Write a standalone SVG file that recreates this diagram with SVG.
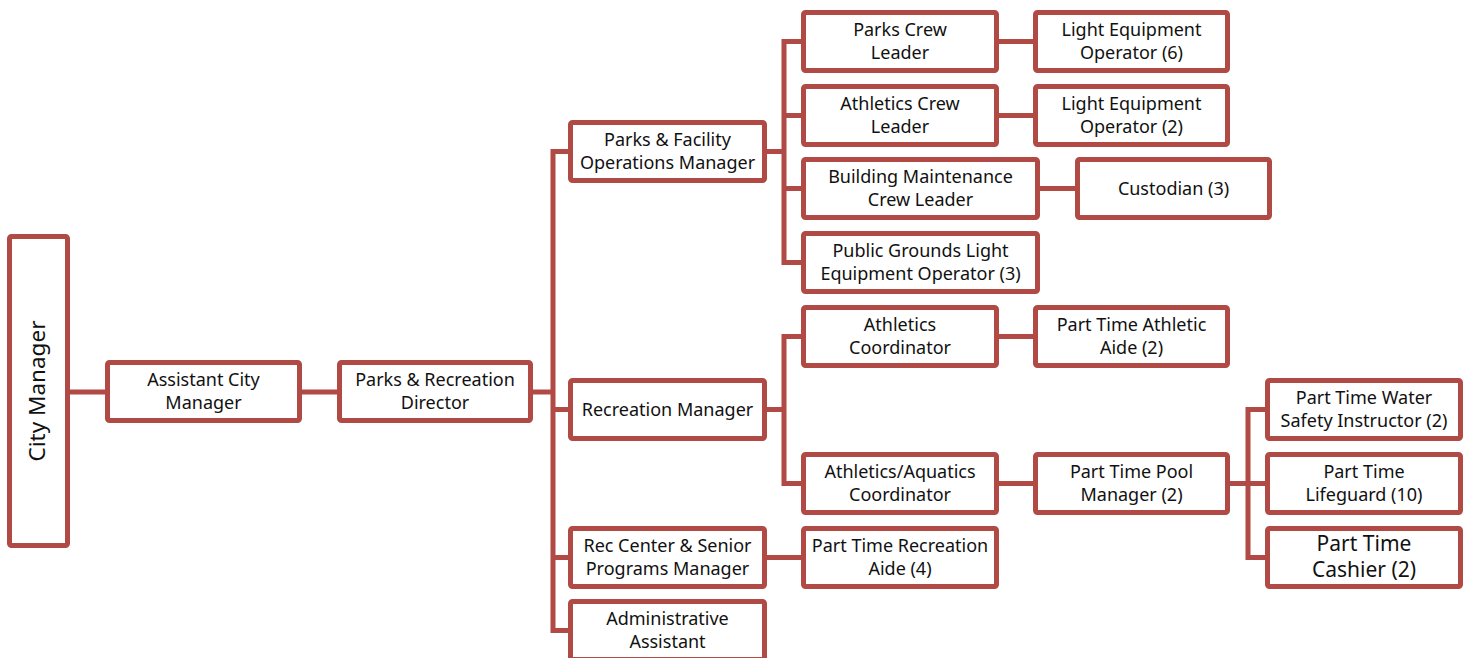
<svg xmlns="http://www.w3.org/2000/svg" width="1470" height="658" viewBox="0 0 1470 658">
  <style>
    .box { fill: #ffffff; stroke: #B14A45; stroke-width: 5; }
    .wire { fill: none; stroke: #B14A45; stroke-width: 5; stroke-linejoin: miter; }
    text { font-family: "Noto Sans", "Liberation Sans", sans-serif; font-size: 18px; fill: #111111; text-anchor: middle; }
    .big { font-size: 21px; }
    .title { font-size: 22.5px; }
  </style>
  <rect width="1470" height="658" fill="#ffffff"/>

  <!-- reporting lines -->
  <g id="connectors">
    <path class="wire" d="M70 392 H105"/>
    <path class="wire" d="M302 392 H337"/>
    <path class="wire" d="M533 392 H553"/>
    <path class="wire" d="M568 151.5 H553 V630.5 H568 M553 409.5 H568 M553 557.5 H568"/>
    <path class="wire" d="M767 151.5 H784"/>
    <path class="wire" d="M801 41.5 H784 V262.5 H801 M784 115.5 H801 M784 188.5 H801"/>
    <path class="wire" d="M767 409.5 H784"/>
    <path class="wire" d="M801 336.5 H784 V483.5 H801"/>
    <path class="wire" d="M767 557.5 H801"/>
    <path class="wire" d="M999 41.5 H1033"/>
    <path class="wire" d="M999 115.5 H1033"/>
    <path class="wire" d="M1040 188.5 H1075"/>
    <path class="wire" d="M999 336.5 H1033"/>
    <path class="wire" d="M999 483.5 H1033"/>
    <path class="wire" d="M1230 483.5 H1248"/>
    <path class="wire" d="M1265 409.5 H1248 V557.5 H1265 M1248 483.5 H1265"/>
  </g>

  <g id="city-manager">
    <rect class="box" x="9.5" y="236.5" width="58" height="309" rx="2"/>
    <text class="title" transform="translate(45 391) rotate(-90)">City Manager</text>
  </g>
  <g id="assistant-city-manager">
    <rect class="box" x="107.5" y="362.5" width="192" height="58" rx="2"/>
    <text x="203.5" y="386">Assistant City</text>
    <text x="203.5" y="409">Manager</text>
  </g>
  <g id="parks-recreation-director">
    <rect class="box" x="339.5" y="362.5" width="191" height="58" rx="2"/>
    <text x="435" y="386">Parks &amp; Recreation</text>
    <text x="435" y="409">Director</text>
  </g>
  <g id="parks-facility-operations-manager">
    <rect class="box" x="570.5" y="122.5" width="194" height="58" rx="2"/>
    <text x="667.5" y="146">Parks &amp; Facility</text>
    <text x="667.5" y="169">Operations Manager</text>
  </g>
  <g id="recreation-manager">
    <rect class="box" x="570.5" y="380.5" width="194" height="58" rx="2"/>
    <text x="667.5" y="415.5">Recreation Manager</text>
  </g>
  <g id="rec-center-senior-programs-manager">
    <rect class="box" x="570.5" y="528.5" width="194" height="58" rx="2"/>
    <text x="667.5" y="552">Rec Center &amp; Senior</text>
    <text x="667.5" y="575">Programs Manager</text>
  </g>
  <g id="administrative-assistant">
    <rect class="box" x="570.5" y="601.5" width="194" height="58" rx="2"/>
    <text x="667.5" y="625">Administrative</text>
    <text x="667.5" y="648">Assistant</text>
  </g>
  <g id="parks-crew-leader">
    <rect class="box" x="803.5" y="12.5" width="193" height="58" rx="2"/>
    <text x="900" y="36">Parks Crew</text>
    <text x="900" y="59">Leader</text>
  </g>
  <g id="athletics-crew-leader">
    <rect class="box" x="803.5" y="86.5" width="193" height="58" rx="2"/>
    <text x="900" y="110">Athletics Crew</text>
    <text x="900" y="133">Leader</text>
  </g>
  <g id="building-maintenance-crew-leader">
    <rect class="box" x="803.5" y="159.5" width="234" height="58" rx="2"/>
    <text x="920.5" y="183">Building Maintenance</text>
    <text x="920.5" y="206">Crew Leader</text>
  </g>
  <g id="public-grounds-operator">
    <rect class="box" x="803.5" y="233.5" width="234" height="58" rx="2"/>
    <text x="920.5" y="257">Public Grounds Light</text>
    <text x="920.5" y="280">Equipment Operator (3)</text>
  </g>
  <g id="athletics-coordinator">
    <rect class="box" x="803.5" y="307.5" width="193" height="58" rx="2"/>
    <text x="900" y="331">Athletics</text>
    <text x="900" y="354">Coordinator</text>
  </g>
  <g id="athletics-aquatics-coordinator">
    <rect class="box" x="803.5" y="454.5" width="193" height="58" rx="2"/>
    <text x="900" y="478">Athletics/Aquatics</text>
    <text x="900" y="501">Coordinator</text>
  </g>
  <g id="part-time-recreation-aide">
    <rect class="box" x="803.5" y="528.5" width="193" height="58" rx="2"/>
    <text x="900" y="552">Part Time Recreation</text>
    <text x="900" y="575">Aide (4)</text>
  </g>
  <g id="light-equipment-operator-6">
    <rect class="box" x="1035.5" y="12.5" width="192" height="58" rx="2"/>
    <text x="1131.5" y="36">Light Equipment</text>
    <text x="1131.5" y="59">Operator (6)</text>
  </g>
  <g id="light-equipment-operator-2">
    <rect class="box" x="1035.5" y="86.5" width="192" height="58" rx="2"/>
    <text x="1131.5" y="110">Light Equipment</text>
    <text x="1131.5" y="133">Operator (2)</text>
  </g>
  <g id="custodian">
    <rect class="box" x="1077.5" y="159.5" width="192" height="58" rx="2"/>
    <text x="1173.5" y="195">Custodian (3)</text>
  </g>
  <g id="part-time-athletic-aide">
    <rect class="box" x="1035.5" y="307.5" width="192" height="58" rx="2"/>
    <text x="1131.5" y="331">Part Time Athletic</text>
    <text x="1131.5" y="354">Aide (2)</text>
  </g>
  <g id="part-time-pool-manager">
    <rect class="box" x="1035.5" y="454.5" width="192" height="58" rx="2"/>
    <text x="1131.5" y="478">Part Time Pool</text>
    <text x="1131.5" y="501">Manager (2)</text>
  </g>
  <g id="part-time-water-safety-instructor">
    <rect class="box" x="1267.5" y="380.5" width="193" height="58" rx="2"/>
    <text x="1364" y="404">Part Time Water</text>
    <text x="1364" y="427">Safety Instructor (2)</text>
  </g>
  <g id="part-time-lifeguard">
    <rect class="box" x="1267.5" y="454.5" width="193" height="58" rx="2"/>
    <text x="1364" y="478">Part Time</text>
    <text x="1364" y="501">Lifeguard (10)</text>
  </g>
  <g id="part-time-cashier">
    <rect class="box" x="1267.5" y="528.5" width="193" height="58" rx="2"/>
    <text class="big" x="1364" y="551">Part Time</text>
    <text class="big" x="1364" y="577">Cashier (2)</text>
  </g>
</svg>
